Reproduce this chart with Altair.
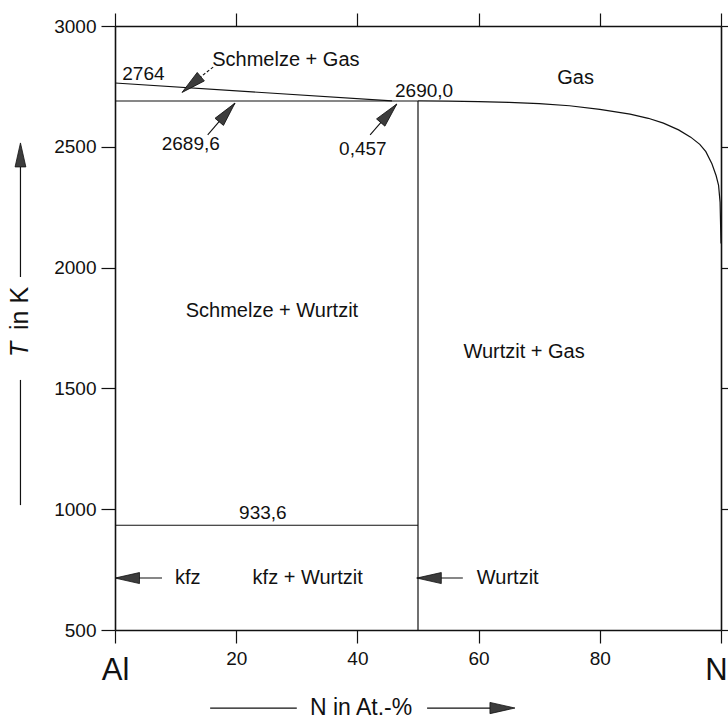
import altair as alt
import pandas as pd

FONT = "Liberation Sans"
INK = "#111111"

# ---- phase boundaries of the Al-N system (N in at.-%, T in K) ----
liq_x = [0, 45.7]
liq_T = [2764, 2690]
mono_x = [0, 50]
mono_T = [2689.6, 2689.6]
aln_x = [50, 50]
aln_T = [500, 2690]
eut_x = [0, 50]
eut_T = [933.6, 933.6]
gas_x = [50, 55, 60, 65, 70, 75, 80, 85, 88, 90.5, 93, 95, 96.5, 97.5, 98.5, 99.2, 99.6, 99.85, 100]
gas_T = [2690, 2689, 2687, 2684, 2679, 2670, 2655, 2635, 2618, 2598, 2570, 2540, 2510, 2480, 2430, 2380, 2340, 2270, 2100]

# ---- axis ticks ----
x_ticks = [0, 20, 40, 60, 80, 100]
y_ticks = [500, 1000, 1500, 2000, 2500, 3000]

# ---- field names ----
region_text = ["Schmelze + Gas", "Gas", "Schmelze + Wurtzit", "Wurtzit + Gas", "kfz + Wurtzit"]
region_x = [28.2, 76.0, 25.9, 67.5, 31.8]
region_T = [2859, 2783, 1820, 1651, 715]

# ---- point values written on the diagram ----
value_text = ["2690,0", "2689,6", "0,457", "933,6"]
value_x = [51.0, 12.5, 40.9, 24.4]
value_T = [2729, 2510, 2489, 984]

# left-anchored labels
left_text = ["2764", "kfz", "Wurtzit"]
left_x = [1.2, 9.9, 59.7]
left_T = [2803, 715, 715]

# ---- pointer arrows (shaft from tail to tip) ----
arrow_x = [15.3, 42.1, 7.76, 57.4]
arrow_T = [2549, 2549, 715, 715]
arrow_x2 = [19.8, 46.5, 0.0, 49.8]
arrow_T2 = [2681, 2677, 715, 715]
head_x = [11.06, 19.8, 46.5, 0.0, 49.8]
head_T = [2725, 2681, 2677, 715, 715]
head_angle = [230, 40, 41, 270, 270]

# dashed leader from "Schmelze + Gas"
dash_x = [16.2]
dash_T = [2830]
dash_x2 = [13.4]
dash_T2 = [2775]

# ---- axis-title arrows ----
ytitle_x = -15.6
yline_T = [1961, 1535]
yline_T2 = [2430, 1017]
yhead_T = [2516]
xtitle_T = 177
xline_x = [15.7, 51.5]
xline_x2 = [30.0, 62.0]
xhead_x = [66.0]

XS = alt.Scale(domain=[0, 100], nice=False, zero=False)
YS = alt.Scale(domain=[500, 3000], nice=False, zero=False)

HEAD = "M0,0L0.45,2L-0.45,2Z"


def seg_frame(pairs):
    rows = []
    for name, xs, ts in pairs:
        for i, (a, b) in enumerate(zip(xs, ts)):
            rows.append({"seg": name, "x": a, "T": b, "o": i})
    return pd.DataFrame(rows)


boundaries = seg_frame([
    ("liquidus", liq_x, liq_T),
    ("monotectic", mono_x, mono_T),
    ("AlN", aln_x, aln_T),
    ("eutectic", eut_x, eut_T),
])
gas = seg_frame([("gas", gas_x, gas_T)])

axis_common = dict(
    domainColor=INK, domainWidth=1.6, tickColor=INK, tickWidth=1.2,
    grid=False, title=None, labelFont=FONT, labelColor=INK,
)

ends = "datum.value == 0 || datum.value == 100"

base_lines = alt.Chart(boundaries).mark_line(color=INK, strokeWidth=1.2).encode(
    x=alt.X("x:Q", scale=XS, axis=alt.Axis(
        orient="bottom", values=x_ticks, tickSize=13, format="d",
        labelExpr="datum.value == 0 ? 'Al' : datum.value == 100 ? 'N' : datum.label",
        labelFontSize={"condition": {"test": ends, "value": 31}, "value": 19},
        labelPadding={"condition": {"test": ends, "value": 12}, "value": 6},
        labelOffset={"condition": {"test": "datum.value == 100", "value": -5}, "value": 0},
        labelFlush=False, labelOverlap=False, **axis_common)),
    y=alt.Y("T:Q", scale=YS, axis=alt.Axis(
        orient="left", values=y_ticks, tickSize=14, labelPadding=5, format="d",
        labelFontSize=19, labelOverlap=False, labelFlush=False, **axis_common)),
    detail="seg:N",
    order="o:Q",
)

gas_line = alt.Chart(gas).mark_line(color=INK, strokeWidth=1.2).encode(
    x=alt.X("x:Q", scale=XS, axis=alt.Axis(
        orient="top", values=x_ticks, tickSize=13, labels=False, **axis_common)),
    y=alt.Y("T:Q", scale=YS, axis=alt.Axis(
        orient="right", values=y_ticks, tickSize=10, labels=False, **axis_common)),
    order="o:Q",
)


def text_layer(texts, xs, ts, size, align="center", angle=0, style="normal"):
    df = pd.DataFrame({"t": texts, "x": xs, "T": ts})
    return alt.Chart(df).mark_text(
        font=FONT, fontSize=size, color=INK, align=align, baseline="middle",
        angle=angle, fontStyle=style,
    ).encode(
        x=alt.X("x:Q", scale=XS, axis=None),
        y=alt.Y("T:Q", scale=YS, axis=None),
        text="t:N",
    )


def rule_layer(xs, ts, xs2, ts2, dash=None, width=1.1):
    df = pd.DataFrame({"x": xs, "T": ts, "x2": xs2, "T2": ts2})
    kw = dict(color=INK, strokeWidth=width)
    if dash:
        kw["strokeDash"] = dash
    return alt.Chart(df).mark_rule(**kw).encode(
        x=alt.X("x:Q", scale=XS, axis=None),
        y=alt.Y("T:Q", scale=YS, axis=None),
        x2="x2:Q",
        y2="T2:Q",
    )


def head_layer(xs, ts, angles, size=600):
    df = pd.DataFrame({"x": xs, "T": ts, "a": angles})
    return alt.Chart(df).mark_point(
        shape=HEAD, filled=True, fill="#3c3c3c", stroke=INK, strokeWidth=0.8,
        size=size, opacity=1,
    ).encode(
        x=alt.X("x:Q", scale=XS, axis=None),
        y=alt.Y("T:Q", scale=YS, axis=None),
        angle=alt.Angle("a:Q", scale=None),
    )


layers = [
    base_lines,
    gas_line,
    text_layer(region_text, region_x, region_T, 20),
    text_layer(value_text, value_x, value_T, 19),
    text_layer(left_text[:1], left_x[:1], left_T[:1], 19, align="left"),
    text_layer(left_text[1:], left_x[1:], left_T[1:], 20, align="left"),
    rule_layer(arrow_x, arrow_T, arrow_x2, arrow_T2),
    rule_layer(dash_x, dash_T, dash_x2, dash_T2, dash=[3, 2]),
    head_layer(head_x, head_T, head_angle),
    # axis titles with their arrows
    text_layer(["N in At.-%"], [40.6], [xtitle_T], 23),
    rule_layer(xline_x, [xtitle_T] * 2, xline_x2, [xtitle_T] * 2, width=1.2),
    head_layer(xhead_x, [xtitle_T], [90], size=625),
    text_layer(["T"], [ytitle_x], [1630], 25, align="left", angle=270, style="italic"),
    text_layer(["in K"], [ytitle_x], [1742], 25, align="left", angle=270),
    rule_layer([ytitle_x] * 2, yline_T, [ytitle_x] * 2, yline_T2, width=1.2),
    head_layer([ytitle_x], yhead_T, [0], size=576),
]

chart = alt.layer(*layers).resolve_axis(
    x="independent", y="independent"
).properties(
    width=606,
    height=604,
    autosize=alt.AutoSizeParams(type="none"),
    padding={"left": 115, "top": 26, "right": 7, "bottom": 90},
    background="white",
).configure_view(stroke=None)

chart.save("out.html", embed_options={"renderer": "svg", "actions": False})
